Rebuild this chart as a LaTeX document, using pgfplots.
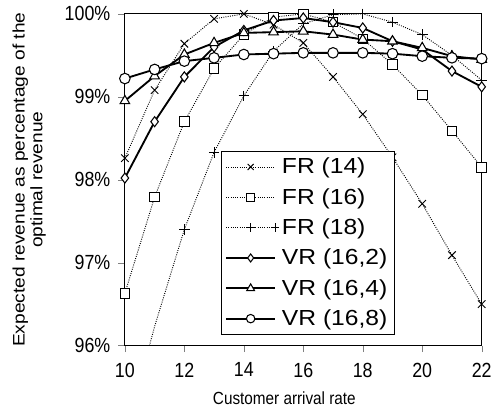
\documentclass[border=0pt]{standalone}
\usepackage{pgfplots}
\pgfplotsset{compat=1.18}
\usepackage{fontspec}
\setmainfont{Liberation Sans}[FakeStretch=0.87]
\newfontfamily\ylabfont{Liberation Sans}[FakeStretch=1.15]
\newfontfamily\legfont{Liberation Sans}[FakeStretch=1.13]
\begin{document}
\begin{tikzpicture}
\begin{axis}[
  scale only axis,
  width=270pt, height=251pt,
  xmin=10, xmax=22, ymin=96, ymax=100,
  xtick={10,12,...,22},
  ytick={96,97,98,99,100},
  yticklabels={96\%,97\%,98\%,99\%,100\%},
  /pgf/number format/assume math mode=true,
  tick align=outside,
  xtick pos=bottom, ytick pos=left,
  major tick length=5pt,
  tick label style={font=\fontsize{15.5}{18}\selectfont},
  xticklabel style={yshift=-4.5pt},
  yticklabel style={xshift=-2.5pt},
  xlabel={Customer arrival rate},
  ylabel={Expected revenue as percentage of the\\optimal revenue},
  ylabel style={at={(rel axis cs:-0.268,0.5)}, anchor=center, align=center, font=\ylabfont\fontsize{12.6}{13.5}\selectfont},
  xlabel style={at={(rel axis cs:0.447,-0.1763)}, anchor=base, font=\fontsize{13.3}{15}\selectfont},
  axis line style={line width=0.8pt},
  legend style={at={(0.269,0.033)}, anchor=south west, font=\legfont\fontsize{16.5}{19}\selectfont, draw=black, line width=0.7pt, row sep=5.5pt, inner sep=3pt, nodes={inner sep=2pt}},
  legend cell align=left,
  legend image code/.code={\draw[mark repeat=2,mark phase=2,#1,every mark/.append style={scale=0.8}] plot coordinates {(0cm,0cm) (0.65cm,0cm) (1.3cm,0cm)};},
  every axis plot/.append style={black},
]
\addplot[densely dotted, line width=0.7pt, mark=x, mark size=4pt, mark options={solid}] coordinates {
(10,98.26)(11,99.08)(12,99.64)(13,99.94)(14,100)(15,99.87)(16,99.65)(17,99.24)(18,98.79)(19,98.27)(20,97.71)(21,97.09)(22,96.50)};
\addlegendentry{FR (14)}
\addplot[densely dotted, line width=0.7pt, mark=square*, mark size=3.6pt, mark options={solid, fill=white}] coordinates {
(10,96.63)(11,97.79)(12,98.70)(13,99.34)(14,99.75)(15,99.96)(16,100)(17,99.90)(18,99.70)(19,99.39)(20,99.02)(21,98.59)(22,98.15)};
\addlegendentry{FR (16)}
\addplot[densely dotted, line width=0.7pt, mark=+, mark size=4pt, mark options={solid}, mark indices={2,3,4,5,6,7,8,9,10,11,12,13}] coordinates {
(10,94.9)(11,96.23)(12,97.40)(13,98.33)(14,99.01)(15,99.55)(16,99.88)(17,99.99)(18,100)(19,99.90)(20,99.75)(21,99.50)(22,99.20)};
\addlegendentry{FR (18)}
\addplot[solid, line width=1.4pt, mark=diamond*, mark size=3.8pt, mark options={fill=white, line width=0.8pt}] coordinates {
(10,98.02)(11,98.70)(12,99.24)(13,99.60)(14,99.80)(15,99.92)(16,99.95)(17,99.90)(18,99.83)(19,99.67)(20,99.57)(21,99.31)(22,99.12)};
\addlegendentry{VR (16,2)}
\addplot[solid, line width=1.4pt, mark=triangle*, mark size=4.2pt, mark options={fill=white, line width=0.8pt}] coordinates {
(10,98.95)(11,99.25)(12,99.51)(13,99.65)(14,99.77)(15,99.78)(16,99.79)(17,99.75)(18,99.69)(19,99.67)(20,99.59)(21,99.49)(22,99.45)};
\addlegendentry{VR (16,4)}
\addplot[solid, line width=1.4pt, mark=*, mark size=4pt, mark options={fill=white, line width=0.8pt}] coordinates {
(10,99.22)(11,99.33)(12,99.43)(13,99.47)(14,99.51)(15,99.52)(16,99.53)(17,99.53)(18,99.53)(19,99.52)(20,99.49)(21,99.47)(22,99.46)};
\addlegendentry{VR (16,8)}
\end{axis}
\path ([shift={(-94.5pt,-49.5pt)}]current axis.south west) rectangle ([shift={(7.5pt,10.5pt)}]current axis.north east);
\end{tikzpicture}
\end{document}
